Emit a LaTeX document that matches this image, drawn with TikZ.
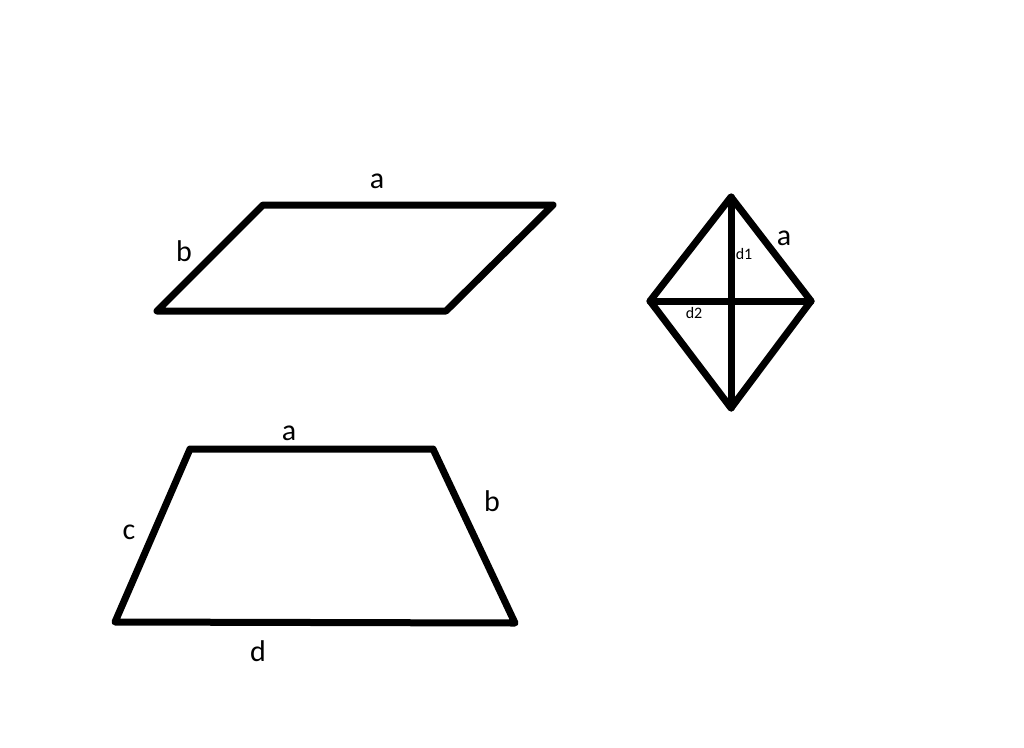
\documentclass[tikz,border=0pt]{standalone}
\usepackage{fontspec}
\setmainfont{Carlito}
\begin{document}
\begin{tikzpicture}[x=1pt,y=-1pt,
  edge/.style={line width=7pt,line join=round,line cap=round},
  lbl/.style={font=\fontsize{30}{30}\selectfont,inner sep=0pt,anchor=base},
  small/.style={font=\fontsize{16}{16}\selectfont,inner sep=0pt,anchor=base}]
\fill[white] (0,0) rectangle (1024,747);
\useasboundingbox (0,0) rectangle (1024,747);
% parallelogram
\coordinate (p1) at (157,311);
\coordinate (p2) at (263,205);
\coordinate (p3) at (553,205);
\coordinate (p4) at (446,311);
\draw[edge] (p1) -- (p2) -- (p3) -- (p4) -- cycle;
\node[lbl] (pa) at (377,188) {a};
\node[lbl] (pb) at (184,261) {b};
% rhombus
\coordinate (rt) at (731,197);
\coordinate (rl) at (650,301);
\coordinate (rr) at (811,301);
\coordinate (rb) at (731,408);
\draw[edge] (rt) -- (rr) -- (rb) -- (rl) -- cycle;
\draw[edge] (rt) -- (rb);
\draw[edge] (rl) -- (rr);
\node[lbl] (ra) at (784,245) {a};
\node[small] (rd1) at (744,259) {d1};
\node[small] (rd2) at (694,318) {d2};
% trapezoid
\coordinate (t1) at (115,622);
\coordinate (t2) at (190,449);
\coordinate (t3) at (433,449);
\coordinate (t4) at (515,623);
\draw[edge] (t1) -- (t2) -- (t3) -- (t4) -- cycle;
\node[lbl] (ta) at (289,440) {a};
\node[lbl] (tb) at (492,511) {b};
\node[lbl] (tc) at (129,539) {c};
\node[lbl] (td) at (258,661) {d};
\end{tikzpicture}
\end{document}
